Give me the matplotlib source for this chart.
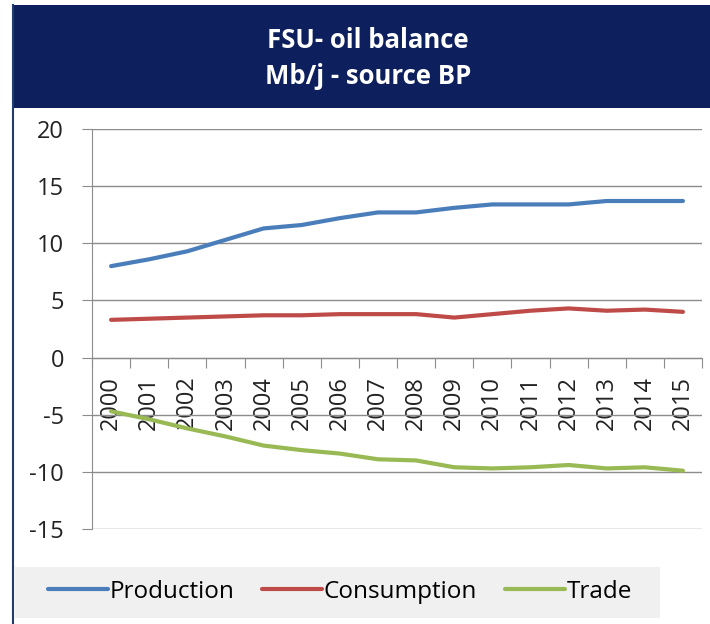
import matplotlib.pyplot as plt
from matplotlib.patches import Rectangle
from matplotlib.ticker import FixedLocator

plt.rcParams['font.family'] = ['Open Sans', 'DejaVu Sans']
plt.rcParams['axes.unicode_minus'] = False

years = [str(y) for y in range(2000, 2016)]
production = [8.0, 8.6, 9.3, 10.3, 11.3, 11.6, 12.2, 12.7, 12.7, 13.1, 13.4, 13.4, 13.4, 13.7, 13.7, 13.7]
consumption = [3.3, 3.4, 3.5, 3.6, 3.7, 3.7, 3.8, 3.8, 3.8, 3.5, 3.8, 4.1, 4.3, 4.1, 4.2, 4.0]
trade = [-4.7, -5.4, -6.2, -6.9, -7.7, -8.1, -8.4, -8.9, -9.0, -9.6, -9.7, -9.6, -9.4, -9.7, -9.6, -9.9]

W, H = 710, 624
fig = plt.figure(figsize=(W / 100, H / 100), dpi=100)

# banner + left border
fig.patches.append(Rectangle((12 / W, 1 - 108 / H), 1, 103 / H, transform=fig.transFigure,
                             facecolor='#0d1f5c', edgecolor='none', zorder=0))
fig.add_artist(plt.Line2D([13 / W, 13 / W], [0, 1 - 5 / H], transform=fig.transFigure,
                          color='#1f3b70', lw=1.5))
fig.text(368 / W, 1 - 40 / H, 'FSU- oil balance', color='white', fontsize=18.5,
         fontweight='bold', ha='center', va='center')
fig.text(368 / W, 1 - 77 / H, 'Mb/j - source BP', color='white', fontsize=18.5,
         fontweight='bold', ha='center', va='center')

# legend band
fig.patches.append(Rectangle((15 / W, 1 - 618 / H), 645 / W, 51 / H, transform=fig.transFigure,
                             facecolor='#f0f0f0', edgecolor='none', zorder=0))

ax = fig.add_axes([92 / W, 1 - 529 / H, 610 / W, 400 / H])
x = list(range(len(years)))
ax.plot(x, production, color='#4a7ebb', lw=3, label='Production', solid_capstyle='round')
ax.plot(x, consumption, color='#be4b48', lw=3, label='Consumption', solid_capstyle='round')
ax.plot(x, trade, color='#98b954', lw=3, label='Trade', solid_capstyle='round')

ax.set_xlim(-0.5, 15.5)
ax.set_ylim(-15, 20)
ax.set_yticks(range(-15, 21, 5))
ax.yaxis.grid(True, color='#8c8c8c', lw=1)
ax.set_axisbelow(True)

for s in ['top', 'right']:
    ax.spines[s].set_visible(False)
ax.spines['bottom'].set_position(('data', 0))
ax.spines['left'].set_color('#8c8c8c')
ax.spines['bottom'].set_color('#8c8c8c')

ax.tick_params(axis='y', length=7, color='#8c8c8c', pad=13, labelsize=17, labelcolor='#222222')
ax.xaxis.set_major_locator(FixedLocator([i - 0.5 for i in range(len(years) + 1)]))
ax.xaxis.set_minor_locator(FixedLocator(x))
ax.set_xticklabels([], minor=False)
ax.set_xticklabels(years, minor=True, rotation=90)
ax.tick_params(axis='x', which='major', length=7, color='#8c8c8c', direction='out')
ax.tick_params(axis='x', which='minor', length=0, pad=13, labelsize=17, labelcolor='#222222')

fig.legend(loc='center left', bbox_to_anchor=(36 / W, 1 - 592 / H), ncol=3, frameon=False,
           fontsize=17.5, handlelength=2.45, handletextpad=0.08, columnspacing=1.15, borderpad=0)

fig.savefig('out.png', dpi=100)
